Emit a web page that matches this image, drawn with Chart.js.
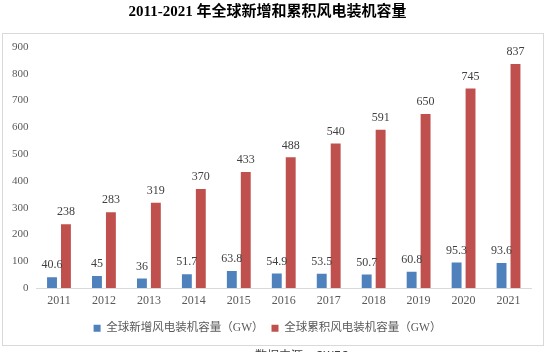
<!DOCTYPE html>
<html><head><meta charset="utf-8">
<script src="https://cdn.jsdelivr.net/npm/chart.js@4/dist/chart.umd.min.js"></script>
<style>html,body{margin:0;padding:0;background:#fff;}#wrap{width:546px;height:352px;position:relative;}</style>
</head><body><div id="wrap"><canvas id="c" width="546" height="352"></canvas></div>
<script>
const years = ["2011","2012","2013","2014","2015","2016","2017","2018","2019","2020","2021"];
const newCap = [40.6,45,36,51.7,63.8,54.9,53.5,50.7,60.8,95.3,93.6];
const cumCap = [238,283,319,370,433,488,540,591,650,745,837];
const newLabel = ["40.6","45","36","51.7","63.8","54.9","53.5","50.7","60.8","95.3","93.6"];
const cumLabel = ["238","283","319","370","433","488","540","591","650","745","837"];
const seriesNames = ["全球新增风电装机容量（GW）","全球累积风电装机容量（GW）"];
const titleText = "2011-2021 年全球新增和累积风电装机容量";
const yTicks = [0,100,200,300,400,500,600,700,800,900];

const SERIF = "'Liberation Serif','Noto Sans CJK SC',serif";

const frame = {
  id:'frame',
  beforeDraw(chart){
    const ctx=chart.ctx;
    ctx.save();
    ctx.fillStyle='#fff';ctx.fillRect(0,0,chart.width,chart.height);
    ctx.strokeStyle='#d9d9d9';ctx.lineWidth=1;
    ctx.strokeRect(2.5,33.5,541,312);
    ctx.restore();
  },
  afterDraw(chart){
    const ctx=chart.ctx;
    ctx.save();
    ctx.font="12px 'Noto Sans CJK SC',sans-serif";
    ctx.fillStyle='#404040';
    ctx.textAlign='left';ctx.textBaseline='top';
    ctx.fillText('数据来源：GWEC',255,349);
    ctx.restore();
  }
};

const labels = {
  id:'vlabels',
  afterDatasetsDraw(chart){
    const ctx=chart.ctx;
    ctx.save();
    ctx.font="12px "+SERIF;
    ctx.fillStyle='#404040';
    ctx.textAlign='center';ctx.textBaseline='bottom';
    const texts=[newLabel,cumLabel];
    chart.data.datasets.forEach((ds,i)=>{
      chart.getDatasetMeta(i).data.forEach((bar,j)=>{
        ctx.fillText(texts[i][j],bar.x,bar.y-6);
      });
    });
    ctx.restore();
  }
};

new Chart(document.getElementById('c'),{
  type:'bar',
  data:{labels:years,datasets:[
    {label:seriesNames[0],data:newCap,backgroundColor:'#4F81BD',categoryPercentage:0.62,barPercentage:0.71},
    {label:seriesNames[1],data:cumCap,backgroundColor:'#C0504D',categoryPercentage:0.62,barPercentage:0.71}
  ]},
  options:{
    responsive:false,animation:false,
    layout:{padding:{left:4,right:15,top:0,bottom:8}},
    plugins:{
      title:{display:true,text:titleText,color:'#000',font:{family:SERIF,size:15,weight:'bold'},padding:{top:3,bottom:26}},
      legend:{position:'bottom',labels:{boxWidth:7,boxHeight:7,color:'#595959',font:{family:SERIF,size:11.5},padding:8}},
      tooltip:{enabled:false}
    },
    scales:{
      x:{grid:{display:false,drawTicks:false},border:{color:'#d9d9d9'},ticks:{color:'#595959',font:{family:SERIF,size:12},padding:6}},
      y:{min:0,max:900,grid:{display:false,drawTicks:false},border:{display:false},
         afterBuildTicks(axis){axis.ticks=yTicks.map(v=>({value:v}));},
         ticks:{color:'#595959',font:{family:SERIF,size:11},padding:8}}
    }
  },
  plugins:[frame,labels]
});
</script></body></html>
